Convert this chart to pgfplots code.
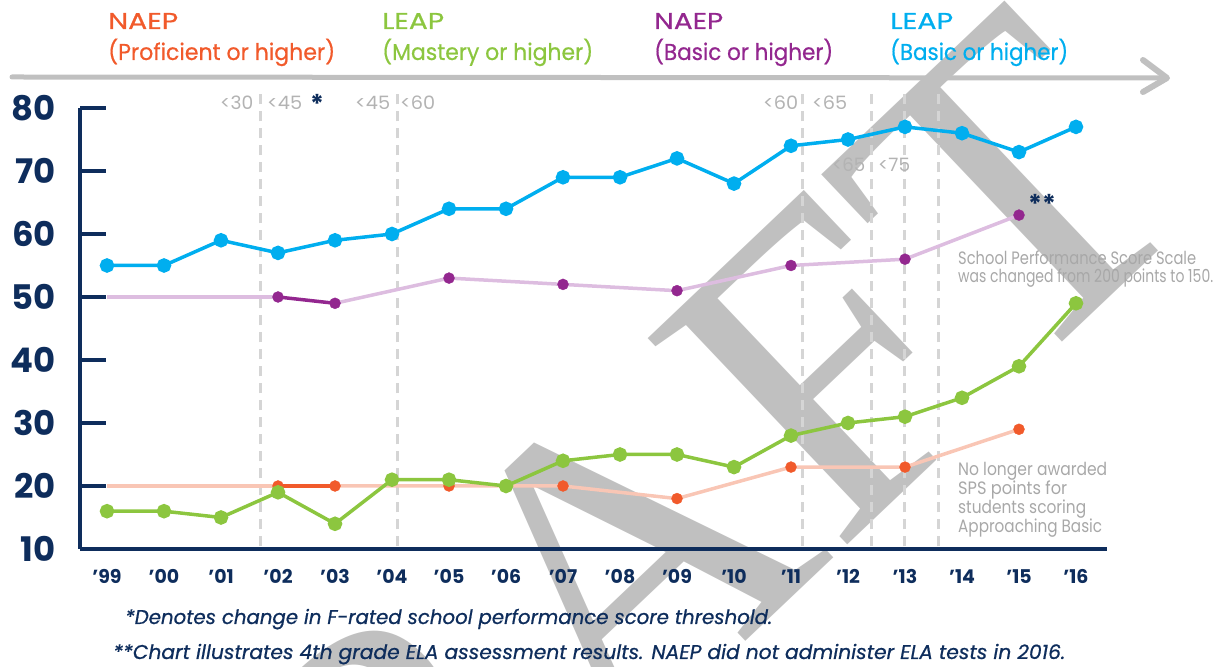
\documentclass[border=0pt]{standalone}
\usepackage{fontspec}
\setmainfont{Poppins}
\newfontfamily\wmfont{Liberation Serif}
\newfontfamily\medfont[FakeBold=0.6]{Poppins}
\newfontfamily\medit[FakeBold=0.7]{Poppins Italic}
\usepackage{graphicx}
\usepackage{pgfplots}
\pgfplotsset{compat=1.18}
\definecolor{navy}{HTML}{0E2D5C}
\definecolor{cblue}{HTML}{00AEEF}
\definecolor{cgreen}{HTML}{8CC63F}
\definecolor{corange}{HTML}{F15A2B}
\definecolor{cpurple}{HTML}{93278F}
\definecolor{lpurple}{HTML}{DDBDE0}
\definecolor{lorange}{HTML}{F9C6B5}
\definecolor{tgray}{HTML}{B3B3B3}
\definecolor{ngray}{HTML}{A8A8A8}
\definecolor{wgray}{HTML}{C0C0C0}
\definecolor{dgray}{HTML}{D5D5D5}
\newcommand{\fw}[2]{\resizebox{#1}{\height}{#2}}
\begin{document}
\begin{tikzpicture}[x=1bp,y=1bp]
\useasboundingbox (0,0) rectangle (1222,667);
% watermark
\node[rotate=43.5, anchor=base west, inner sep=0pt, text=wgray, font=\wmfont\fontsize{440}{440}\selectfont] at (165,-526) {DRAFT};
% arrow
\draw[wgray, line width=5bp, line cap=round] (12,590) -- (1166,589);
\draw[wgray, line width=6bp, line cap=round, line join=round] (1143,607) -- (1167,589) -- (1143,575);
\begin{axis}[
  at={(80bp,118bp)}, anchor=south west,
  scale only axis, width=1027bp, height=441bp,
  xmin=-0.474, xmax=17.544, ymin=10, ymax=80,
  clip=false,
  axis x line*=bottom, axis y line*=left,
  axis line style={navy, line width=3.5bp, -},
  ytick={10,20,...,80},
  xtick={0,...,17},
  xticklabels={'99,'00,'01,'02,'03,'04,'05,'06,'07,'08,'09,'10,'11,'12,'13,'14,'15,'16},
  tick align=inside,
  major tick length=26bp,
  y tick style={navy, line width=3.5bp},
  x tick style={draw=none},
  /pgf/number format/assume math mode=true,
  yticklabel style={anchor=east, inner sep=0pt, xshift=-24bp, font=\fontsize{34}{34}\selectfont\bfseries, text=navy},
  xticklabel style={anchor=north, inner sep=0pt, yshift=-20bp, font=\fontsize{19}{19}\selectfont\bfseries, text=navy},
]
\draw[dgray, line width=3bp, dash pattern=on 10bp off 7bp] (axis cs:2.697,10.4) -- (axis cs:2.697,82.54);
\draw[dgray, line width=3bp, dash pattern=on 10bp off 7bp] (axis cs:5.094,10.4) -- (axis cs:5.094,82.54);
\draw[dgray, line width=3bp, dash pattern=on 10bp off 7bp] (axis cs:12.198,10.4) -- (axis cs:12.198,82.54);
\draw[dgray, line width=3bp, dash pattern=on 10bp off 7bp] (axis cs:13.406,10.4) -- (axis cs:13.406,82.54);
\draw[dgray, line width=3bp, dash pattern=on 10bp off 7bp] (axis cs:13.983,10.4) -- (axis cs:13.983,82.54);
\draw[dgray, line width=3bp, dash pattern=on 10bp off 7bp] (axis cs:14.596,10.4) -- (axis cs:14.596,82.54);
% light connecting lines
\addplot[lpurple, line width=3.5bp, no marks] coordinates {(0,50)(3,50)};
\addplot[lpurple, line width=3.5bp, no marks] coordinates {(4,49)(6,53)(8,52)(10,51)(12,55)(14,56)(16,63)};
\addplot[lorange, line width=3.5bp, no marks] coordinates {(0,20)(3,20)};
\addplot[lorange, line width=3.5bp, no marks] coordinates {(4,20)(6,20)(8,20)(10,18)(12,23)(14,23)(16,29)};
\addplot[cpurple, line width=3.5bp, no marks] coordinates {(3,50)(4,49)};
\addplot[corange, line width=3.5bp, no marks] coordinates {(3,20)(4,20)};
\addplot[only marks, mark=*, mark size=5.5bp, cpurple, mark options={draw=none}] coordinates {(3,50)(4,49)(6,53)(8,52)(10,51)(12,55)(14,56)(16,63)};
\addplot[only marks, mark=*, mark size=5.5bp, corange, mark options={draw=none}] coordinates {(3,20)(4,20)(6,20)(8,20)(10,18)(12,23)(14,23)(16,29)};
% LEAP mastery
\addplot[cgreen, line width=3.5bp, mark=*, mark size=5.5bp, mark options={draw=none, fill=cgreen}] coordinates {(0,16)(1,16)(2,15)(3,19)(4,14)(5,21)(6,21)(7,20)(8,24)(9,25)(10,25)(11,23)(12,28)(13,30)(14,31)(15,34)(16,39)(17,49)};
% LEAP basic
\addplot[cblue, line width=3.5bp, mark=*, mark size=5.5bp, mark options={draw=none, fill=cblue}] coordinates {(0,55)(1,55)(2,59)(3,57)(4,59)(5,60)(6,64)(7,64)(8,69)(9,69)(10,72)(11,68)(12,74)(13,75)(14,77)(15,76)(16,73)(17,77)};
\end{axis}
% header
\begin{scope}[every node/.style={anchor=base west, inner sep=0pt, font=\medfont\fontsize{23}{23}\selectfont}]
\node[text=corange] at (108,638) {\fw{70bp}{NAEP}};
\node[text=corange] at (108,607) {\fw{227bp}{(Proficient or higher)}};
\node[text=cgreen] at (382,638) {\fw{62bp}{LEAP}};
\node[text=cgreen] at (382,607) {\fw{211bp}{(Mastery or higher)}};
\node[text=cpurple] at (654,638) {\fw{69bp}{NAEP}};
\node[text=cpurple] at (654,607) {\fw{179bp}{(Basic or higher)}};
\node[text=cblue] at (890,638) {\fw{63bp}{LEAP}};
\node[text=cblue] at (890,607) {\fw{178bp}{(Basic or higher)}};
\end{scope}
% thresholds
\begin{scope}[every node/.style={anchor=base west, inner sep=0pt, text=tgray, font=\fontsize{18.5}{18.5}\selectfont}]
\node at (220,557) {\fw{33bp}{<30}};
\node at (267,557) {\fw{35bp}{<45}};
\node at (355,557) {\fw{35bp}{<45}};
\node at (400,557) {\fw{35bp}{<60}};
\node at (763,557) {\fw{35bp}{<60}};
\node at (812,557) {\fw{35bp}{<65}};
\node at (832,495) {\fw{33bp}{<65}};
\node at (878,495) {\fw{32bp}{<75}};
\end{scope}
\node[anchor=base, inner sep=0pt, text=navy, font=\fontsize{26}{26}\selectfont\bfseries] at (317,553) {*};
\node[anchor=base, inner sep=0pt, text=navy, font=\fontsize{26}{26}\selectfont\bfseries] at (1042,453) {**};
% side notes
\begin{scope}[every node/.style={anchor=base west, inner sep=0pt, text=ngray, font=\fontsize{18}{18}\selectfont}]
\node at (958,402) {\fw{238bp}{School Performance Score Scale}};
\node at (958,384) {\fw{255bp}{was changed from 200 points to 150.}};
\node at (958,191) {\fw{149bp}{No longer awarded}};
\node at (958,172) {\fw{109bp}{SPS points for}};
\node at (958,153) {\fw{128bp}{students scoring}};
\node at (958,134) {\fw{144bp}{Approaching Basic}};
\end{scope}
% footnotes
\begin{scope}[every node/.style={anchor=base west, inner sep=0pt, text=navy, font=\medit\fontsize{20}{20}\selectfont}]
\node at (125,43) {\fw{647bp}{*Denotes change in F-rated school performance score threshold.}};
\node at (113,8) {\fw{952bp}{**Chart illustrates 4th grade ELA assessment results. NAEP did not administer ELA tests in 2016.}};
\end{scope}
\end{tikzpicture}
\end{document}
